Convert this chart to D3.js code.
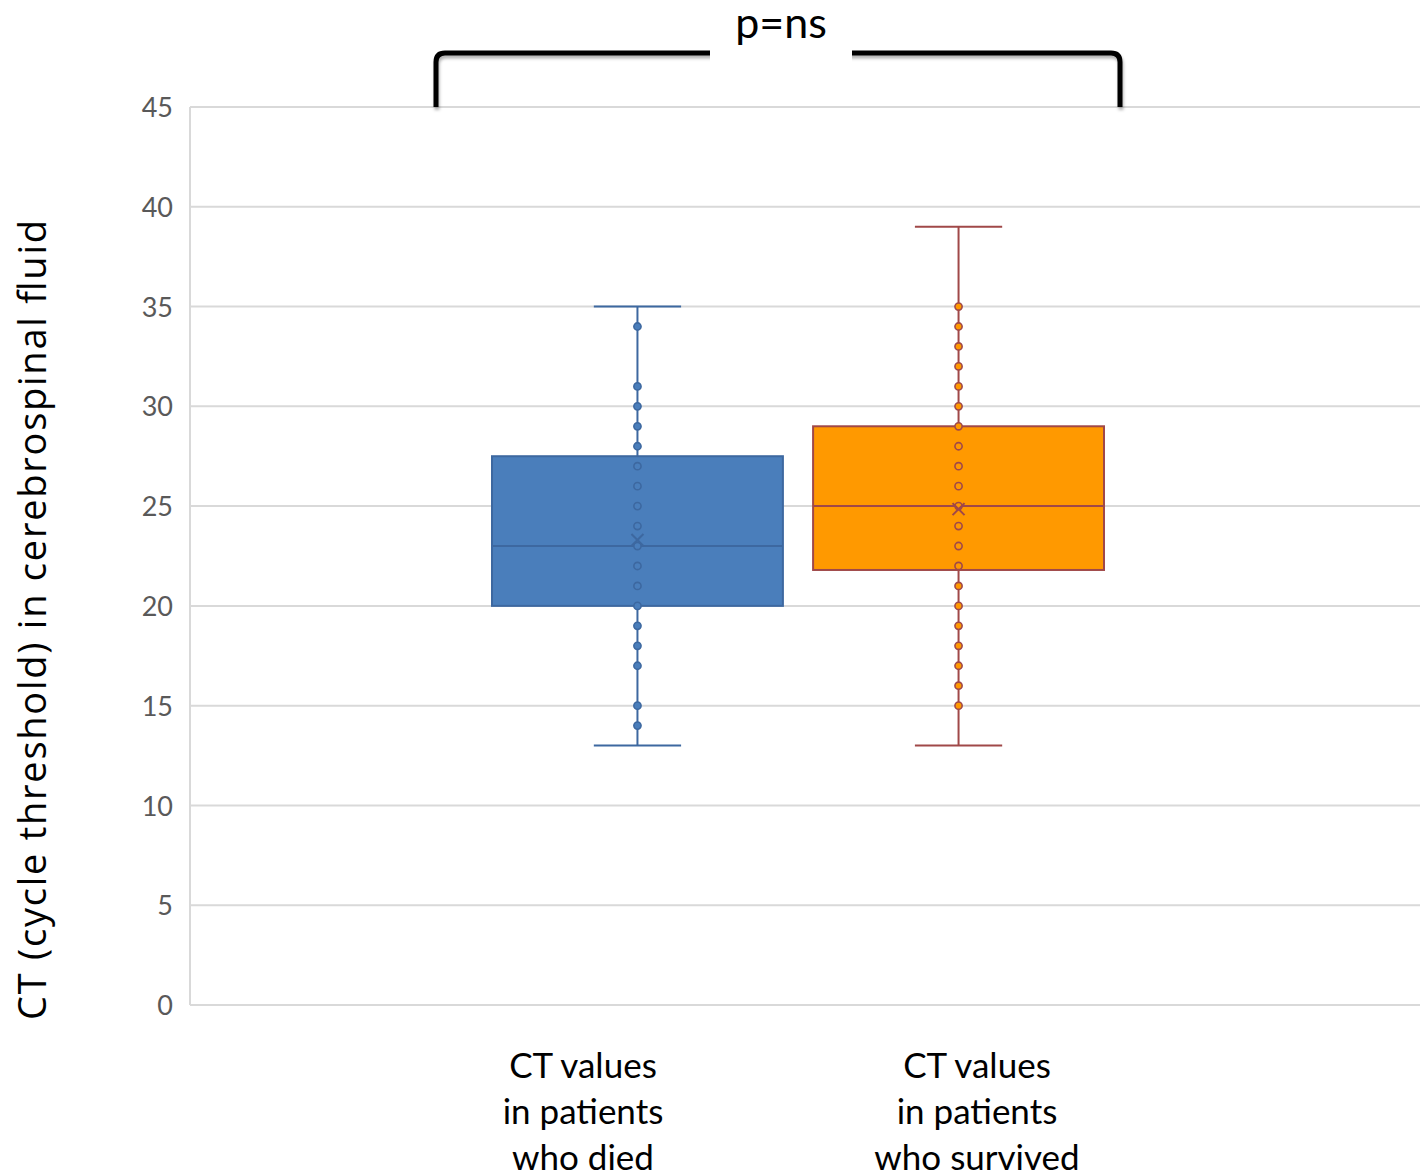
<!DOCTYPE html>
<html>
<head>
<meta charset="utf-8">
<script src="https://cdn.jsdelivr.net/npm/d3@7"></script>
<style>
  html, body { margin: 0; padding: 0; background: #fff; }
  svg { display: block; font-family: Lato, "Open Sans", sans-serif; }
</style>
</head>
<body>
<svg id="chart"></svg>
<script>
const groups = ['died', 'survived']
const labelLines = [
  ['CT values', 'in patients', 'who died'],
  ['CT values', 'in patients', 'who survived']
]
const mins = [13, 13]
const q1s = [20, 21.8]
const medians = [23, 25]
const q3s = [27.5, 29]
const maxs = [35, 39]
const means = [23.3, 24.85]
const pointsDied = [34, 31, 30, 29, 28, 27, 26, 25, 24, 23, 22, 21, 20, 19, 18, 17, 15, 14]
const pointsSurvived = [35, 34, 33, 32, 31, 30, 29, 28, 27, 26, 25, 24, 23, 22, 21, 20, 19, 18, 17, 16, 15]
const yTicks = [0, 5, 10, 15, 20, 25, 30, 35, 40, 45]
const fills = ['#4a7ebb', '#ff9900']
const strokes = ['#3d68a0', '#a04848']

const w = 1422
const h = 1172
const plotLeft = 190
const plotRight = 1420
const plotTop = 107
const plotBottom = 1005

const svg = d3.select('#chart')
  .attr('width', w)
  .attr('height', h)

const yScale = d3.scaleLinear()
  .domain([0, 45])
  .range([plotBottom, plotTop])

const xScale = d3.scaleBand()
  .domain(groups)
  .range([492, 1104])
  .paddingInner(0.094)

const labelScale = d3.scalePoint()
  .domain(groups)
  .range([583, 977])

const boxes = groups.map((g, i) => ({
  key: g,
  min: mins[i],
  q1: q1s[i],
  median: medians[i],
  q3: q3s[i],
  max: maxs[i],
  mean: means[i],
  points: i === 0 ? pointsDied : pointsSurvived,
  fill: fills[i],
  stroke: strokes[i]
}))

// drop shadow for the bracket
const defs = svg.append('defs')
const shadow = defs.append('filter')
  .attr('id', 'shadow')
  .attr('x', '-10%').attr('y', '-50%')
  .attr('width', '120%').attr('height', '200%')
shadow.append('feDropShadow')
  .attr('dx', 1).attr('dy', 3)
  .attr('stdDeviation', 1.5)
  .attr('flood-color', '#000')
  .attr('flood-opacity', 0.3)

// gridlines
svg.append('g')
  .selectAll('line')
  .data(yTicks)
  .enter()
  .append('line')
  .attr('x1', plotLeft)
  .attr('x2', plotRight)
  .attr('y1', d => yScale(d))
  .attr('y2', d => yScale(d))
  .attr('stroke', '#d9d9d9')
  .attr('stroke-width', 2)

svg.append('line')
  .attr('x1', plotLeft).attr('x2', plotLeft)
  .attr('y1', plotTop).attr('y2', plotBottom)
  .attr('stroke', '#d9d9d9')
  .attr('stroke-width', 2)

// y axis labels
const yAxis = d3.axisLeft(yScale)
  .tickValues(yTicks)
  .tickSize(0)
  .tickPadding(0)
svg.append('g')
  .attr('transform', 'translate(' + (plotLeft - 17) + ',1)')
  .call(yAxis)
  .call(g => g.select('.domain').remove())
  .selectAll('text')
  .attr('fill', '#595959')
  .style('font-size', '27px')
  .style('font-family', 'Lato, sans-serif')

// boxes
const boxG = svg.append('g')
  .selectAll('g')
  .data(boxes)
  .enter()
  .append('g')

const cx = d => xScale(d.key) + xScale.bandwidth() / 2
const capHalf = xScale.bandwidth() * 0.15

// whiskers
boxG.append('line')
  .attr('x1', cx).attr('x2', cx)
  .attr('y1', d => yScale(d.max))
  .attr('y2', d => yScale(d.q3))
  .attr('stroke', d => d.stroke)
  .attr('stroke-width', 2)
boxG.append('line')
  .attr('x1', cx).attr('x2', cx)
  .attr('y1', d => yScale(d.q1))
  .attr('y2', d => yScale(d.min))
  .attr('stroke', d => d.stroke)
  .attr('stroke-width', 2)
boxG.append('line')
  .attr('x1', d => cx(d) - capHalf).attr('x2', d => cx(d) + capHalf)
  .attr('y1', d => yScale(d.max)).attr('y2', d => yScale(d.max))
  .attr('stroke', d => d.stroke)
  .attr('stroke-width', 2)
boxG.append('line')
  .attr('x1', d => cx(d) - capHalf).attr('x2', d => cx(d) + capHalf)
  .attr('y1', d => yScale(d.min)).attr('y2', d => yScale(d.min))
  .attr('stroke', d => d.stroke)
  .attr('stroke-width', 2)

boxG.append('rect')
  .attr('x', d => xScale(d.key))
  .attr('width', xScale.bandwidth())
  .attr('y', d => yScale(d.q3))
  .attr('height', d => yScale(d.q1) - yScale(d.q3))
  .attr('fill', d => d.fill)
  .attr('stroke', d => d.stroke)
  .attr('stroke-width', 2)

boxG.append('line')
  .attr('x1', d => xScale(d.key))
  .attr('x2', d => xScale(d.key) + xScale.bandwidth())
  .attr('y1', d => yScale(d.median))
  .attr('y2', d => yScale(d.median))
  .attr('stroke', d => d.stroke)
  .attr('stroke-width', 2)

// data points
boxG.selectAll('circle')
  .data(d => d.points.map(v => ({ v, box: d })))
  .enter()
  .append('circle')
  .attr('cx', p => cx(p.box))
  .attr('cy', p => yScale(p.v))
  .attr('r', 3.6)
  .attr('fill', p => p.box.fill)
  .attr('stroke', p => p.box.stroke)
  .attr('stroke-width', 1.6)

// mean marker
const xs = 6
boxG.append('path')
  .attr('d', d => {
    const x = cx(d)
    const y = yScale(d.mean)
    return `M${x - xs},${y - xs}L${x + xs},${y + xs}M${x - xs},${y + xs}L${x + xs},${y - xs}`
  })
  .attr('stroke', d => d.stroke)
  .attr('stroke-width', 2)
  .attr('fill', 'none')

// category labels
const labelG = svg.append('g')
  .selectAll('text')
  .data(groups)
  .enter()
  .append('text')
  .attr('x', g => labelScale(g))
  .attr('y', 1078)
  .attr('text-anchor', 'middle')
  .style('font-size', '35px')
  .attr('fill', '#000')
labelG.selectAll('tspan')
  .data((g, i) => labelLines[i])
  .enter()
  .append('tspan')
  .attr('x', function () { return d3.select(this.parentNode).attr('x') })
  .attr('dy', (d, i) => i === 0 ? 0 : 46)
  .text(d => d)

// y axis title
svg.append('text')
  .attr('transform', 'rotate(-90)')
  .attr('x', -620)
  .attr('y', 46)
  .attr('text-anchor', 'middle')
  .attr('textLength', 800)
  .attr('lengthAdjust', 'spacing')
  .style('font-size', '38px')
  .style('font-family', '"Open Sans", sans-serif')
  .attr('fill', '#000')
  .text('CT (cycle threshold) in cerebrospinal fluid')

// significance bracket
const bl = 436
const br = 1120
const bt = 53
const r = 9
svg.append('path')
  .attr('d', `M${bl},${plotTop}L${bl},${bt + r}Q${bl},${bt} ${bl + r},${bt}L${br - r},${bt}Q${br},${bt} ${br},${bt + r}L${br},${plotTop}`)
  .attr('fill', 'none')
  .attr('stroke', '#000')
  .attr('stroke-width', 5)
  .attr('filter', 'url(#shadow)')

svg.append('rect')
  .attr('x', 710)
  .attr('y', 40)
  .attr('width', 142)
  .attr('height', 22)
  .attr('fill', '#fff')

svg.append('text')
  .attr('x', 781)
  .attr('y', 38)
  .attr('text-anchor', 'middle')
  .style('font-size', '43px')
  .attr('fill', '#000')
  .text('p=ns')
</script>
</body>
</html>
